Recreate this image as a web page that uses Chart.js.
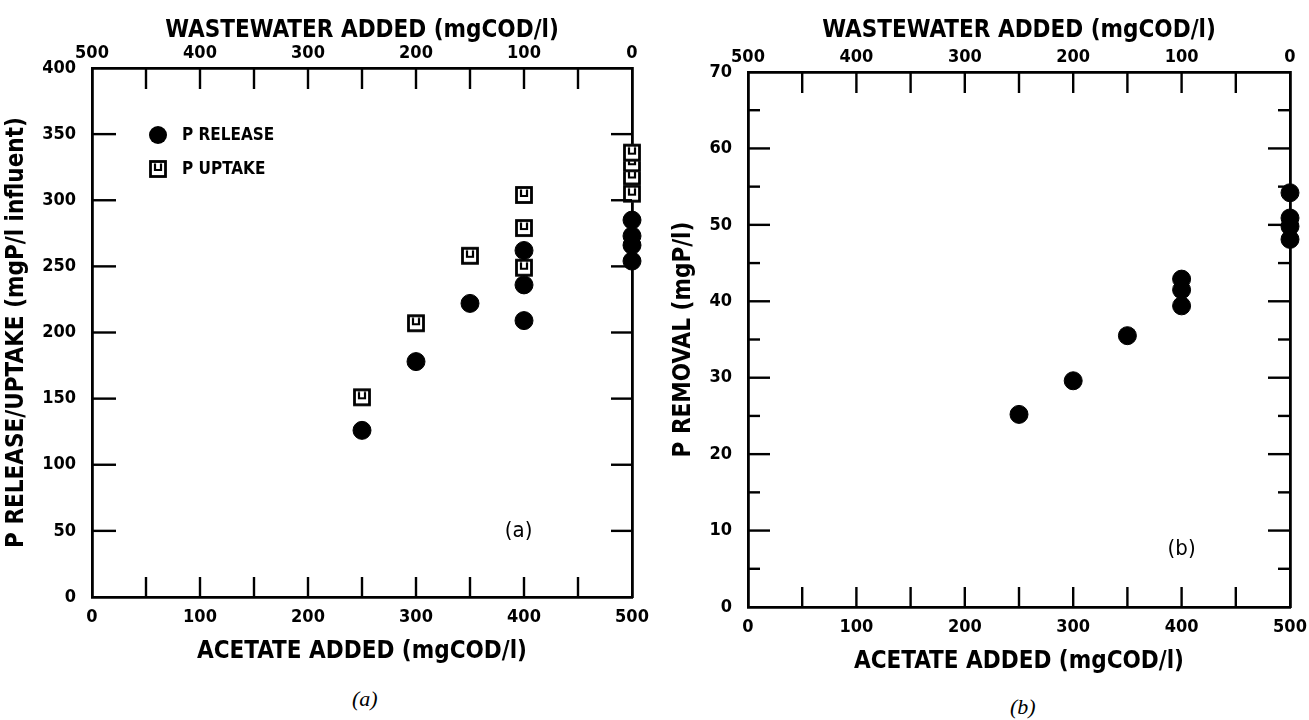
<!DOCTYPE html>
<html>
<head>
    <title>Acetate vs wastewater</title>
    <script src="https://cdn.jsdelivr.net/npm/chart.js@4.4.1/dist/chart.umd.min.js"></script>
    <style>
        body { margin: 0; background: #fff; width: 1309px; height: 720px; position: relative; overflow: hidden; }
        .panel { position: absolute; top: 0; }
        .caption { position: absolute; font: italic 22px "Liberation Serif", serif; color: #000; }
    </style>
</head>
<body>
    <div class="panel" style="left:0; width:655px; height:670px;"><canvas id="chartA"></canvas></div>
    <div class="panel" style="left:655px; width:654px; height:680px;"><canvas id="chartB"></canvas></div>
    <div class="caption" style="left:352px; top:686px;">(a)</div>
    <div class="caption" style="left:1010px; top:694px;">(b)</div>

    <script>
        // data
        const acetateRelease = [250, 300, 350, 400, 400, 400, 500, 500, 500, 500];
        const pRelease = [126, 178, 222, 209, 236, 262, 254, 266, 273, 285];
        const acetateUptake = [250, 300, 350, 400, 400, 400, 500, 500, 500, 500];
        const pUptake = [151, 207, 258, 249, 279, 304, 305, 318, 328, 336];
        const acetateRemoval = [250, 300, 350, 400, 400, 400, 500, 500, 500, 500];
        const pRemoval = [25.2, 29.6, 35.5, 39.4, 41.5, 42.9, 48.1, 49.8, 50.9, 54.2];

        const fam = '"DejaVu Sans Condensed", "DejaVu Sans", sans-serif';
        const tickFont = { family: fam, size: 18, weight: 'bold' };
        const titleFont = { family: fam, size: 24, weight: 'bold' };
        const legendFont = 'bold 17px ' + fam;

        function toXY(xs, ys) { return xs.map((x, i) => ({ x: x, y: ys[i] })); }

        // open square with a small "u" mark inside, like the plotter symbol
        function squareSymbol() {
            const c = document.createElement('canvas');
            c.width = 20; c.height = 20;
            const g = c.getContext('2d');
            g.fillStyle = '#fff';
            g.fillRect(1, 1, 18, 18);
            g.strokeStyle = '#000';
            g.lineWidth = 2.8;
            g.strokeRect(2.5, 2.5, 15, 15);
            g.lineWidth = 2.2;
            g.beginPath();
            g.moveTo(7, 4.5); g.lineTo(7, 11); g.lineTo(13, 11); g.lineTo(13, 4.5);
            g.stroke();
            return c;
        }
        const squareImg = squareSymbol();

        // tick marks pointing into the plot box
        const inwardTicks = {
            id: 'inwardTicks',
            afterDatasetsDraw(chart, args, opts) {
                const ctx = chart.ctx;
                const a = chart.chartArea;
                ctx.save();
                ctx.strokeStyle = '#000';
                ctx.lineWidth = 2.4;
                Object.keys(opts.scales || {}).forEach(id => {
                    const s = chart.scales[id];
                    const cfg = opts.scales[id];
                    s.ticks.forEach(t => {
                        if (t.value === s.min || t.value === s.max) return;
                        const p = s.getPixelForValue(t.value);
                        const len = (t.value % cfg.major === 0) ? cfg.long : cfg.short;
                        ctx.beginPath();
                        if (s.position === 'bottom') { ctx.moveTo(p, a.bottom); ctx.lineTo(p, a.bottom - len); }
                        else if (s.position === 'top') { ctx.moveTo(p, a.top); ctx.lineTo(p, a.top + len); }
                        else if (s.position === 'left') { ctx.moveTo(a.left, p); ctx.lineTo(a.left + len, p); }
                        else { ctx.moveTo(a.right, p); ctx.lineTo(a.right - len, p); }
                        ctx.stroke();
                    });
                });
                ctx.restore();
            }
        };

        // legend drawn inside the box and the (a)/(b) tags
        const innerText = {
            id: 'innerText',
            afterDraw(chart, args, opts) {
                const ctx = chart.ctx;
                const a = chart.chartArea;
                const xs = chart.scales.x, ys = chart.scales.y;
                ctx.save();
                ctx.fillStyle = '#000';
                ctx.textBaseline = 'middle';
                if (opts.legend) {
                    chart.data.datasets.forEach((ds, i) => {
                        const cx = a.left + 66, cy = a.top + 67 + i * 34;
                        if (ds.pointStyle === 'circle') {
                            ctx.beginPath(); ctx.arc(cx, cy, 9, 0, Math.PI * 2); ctx.fill();
                        } else {
                            ctx.drawImage(ds.pointStyle, cx - 10, cy - 10);
                        }
                        ctx.font = legendFont;
                        ctx.textAlign = 'left';
                        ctx.fillText(ds.label, cx + 24, cy + 1);
                    });
                }
                if (opts.tag) {
                    ctx.font = '22px ' + fam;
                    ctx.textAlign = 'center';
                    ctx.fillText(opts.tag.text, xs.getPixelForValue(opts.tag.x), ys.getPixelForValue(opts.tag.y));
                }
                ctx.restore();
            }
        };

        function fixSize(prop, px) {
            return function (scale) { scale[prop] = px; };
        }

        function axis(position, min, max, step, labelEvery, size, extra) {
            const horizontal = position === 'top' || position === 'bottom';
            return Object.assign({
                type: 'linear',
                position: position,
                min: min,
                max: max,
                grid: { display: false },
                border: { display: true, color: '#000', width: 2.8 },
                ticks: {
                    stepSize: step,
                    autoSkip: false,
                    maxRotation: 0,
                    color: '#000',
                    font: tickFont,
                    padding: position === 'top' ? -4 : (horizontal ? 2 : 8),
                    callback: v => (v % labelEvery === 0 ? String(v) : '')
                },
                afterFit: fixSize(horizontal ? 'height' : 'width', size)
            }, extra || {});
        }

        function axisTitle(text, pad) {
            return { display: true, text: text, color: '#000', font: titleFont, padding: pad };
        }

        const chartA = new Chart(document.getElementById('chartA'), {
            type: 'scatter',
            data: {
                datasets: [
                    {
                        label: 'P RELEASE',
                        data: toXY(acetateRelease, pRelease),
                        pointStyle: 'circle',
                        pointRadius: 9,
                        backgroundColor: '#000',
                        borderColor: '#000',
                        clip: false
                    },
                    {
                        label: 'P UPTAKE',
                        data: toXY(acetateUptake, pUptake),
                        pointStyle: squareImg,
                        clip: false
                    }
                ]
            },
            options: {
                responsive: true,
                maintainAspectRatio: false,
                animation: false,
                layout: { padding: 0 },
                plugins: {
                    legend: { display: false },
                    tooltip: { enabled: false },
                    inwardTicks: { scales: {
                        x: { major: 50, long: 20, short: 20 },
                        x2: { major: 50, long: 21, short: 21 },
                        y: { major: 50, long: 24, short: 24 },
                        y2: { major: 50, long: 21, short: 21 }
                    } },
                    innerText: { legend: true, tag: { text: '(a)', x: 395, y: 50 } }
                },
                scales: {
                    x: axis('bottom', 0, 500, 50, 100, 73, { title: axisTitle('ACETATE ADDED (mgCOD/l)', { top: 0, bottom: 4 }) }),
                    x2: axis('top', 0, 500, 50, 100, 68, { reverse: true, title: axisTitle('WASTEWATER ADDED (mgCOD/l)', { top: 16, bottom: 0 }) }),
                    y: axis('left', 0, 400, 50, 50, 92, { title: axisTitle('P RELEASE/UPTAKE (mgP/l influent)', { top: 2, bottom: 2 }) }),
                    y2: axis('right', 0, 400, 50, 50, 23, { ticks: { display: false, stepSize: 50 } })
                }
            },
            plugins: [inwardTicks, innerText]
        });

        const chartB = new Chart(document.getElementById('chartB'), {
            type: 'scatter',
            data: {
                datasets: [
                    {
                        label: 'P REMOVAL',
                        data: toXY(acetateRemoval, pRemoval),
                        pointStyle: 'circle',
                        pointRadius: 9,
                        backgroundColor: '#000',
                        borderColor: '#000',
                        clip: false
                    }
                ]
            },
            options: {
                responsive: true,
                maintainAspectRatio: false,
                animation: false,
                layout: { padding: 0 },
                plugins: {
                    legend: { display: false },
                    tooltip: { enabled: false },
                    inwardTicks: { scales: {
                        x: { major: 50, long: 20, short: 20 },
                        x2: { major: 50, long: 21, short: 21 },
                        y: { major: 10, long: 22, short: 12 },
                        y2: { major: 10, long: 22, short: 12 }
                    } },
                    innerText: { legend: false, tag: { text: '(b)', x: 400, y: 7.5 } }
                },
                scales: {
                    x: axis('bottom', 0, 500, 50, 100, 73, { title: axisTitle('ACETATE ADDED (mgCOD/l)', { top: 0, bottom: 4 }) }),
                    x2: axis('top', 0, 500, 50, 100, 72, { reverse: true, title: axisTitle('WASTEWATER ADDED (mgCOD/l)', { top: 16, bottom: 0 }) }),
                    y: axis('left', 0, 70, 5, 10, 93, { title: axisTitle('P REMOVAL (mgP/l)', { top: 14, bottom: 2 }) }),
                    y2: axis('right', 0, 70, 5, 10, 19, { ticks: { display: false, stepSize: 5 } })
                }
            },
            plugins: [inwardTicks, innerText]
        });
    </script>
</body>
</html>
